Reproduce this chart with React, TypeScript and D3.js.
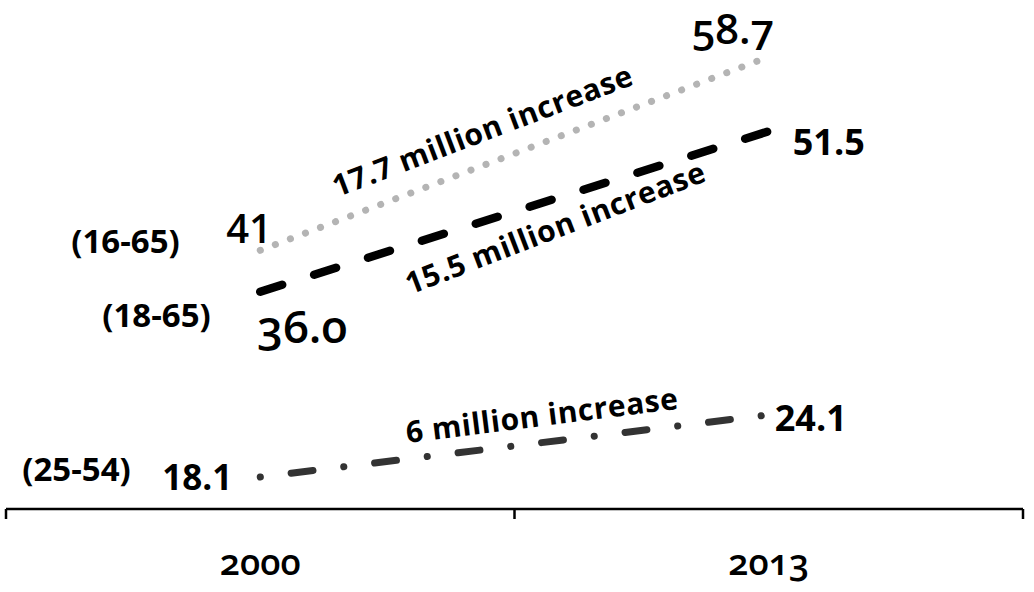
import React from 'react';
import * as d3 from 'd3';

// ---- data ----
const years = ['2000', '2013'];
const groups = ['(16-65)', '(18-65)', '(25-54)'];
// plotted values (millions); 16-65 start drawn at ~40 in the source although labelled 41
const values1665 = [40.0, 58.7];
const values1865 = [36.0, 51.5];
const values2554 = [18.1, 24.1];
const startLabels = ['41', '36.0', '18.1'];
const endLabels = ['58.7', '51.5', '24.1'];
const increaseLabels = ['17.7 million increase', '15.5 million increase', '6 million increase'];

// ---- styles / layout ----
const W = 1034;
const H = 592;
const FONT = "'Open Sans', 'Noto Sans', sans-serif";

const seriesStyles = [
  { color: '#b4b4b4', width: 7, dash: '0.1 16' },
  { color: '#000000', width: 8.5, dash: '23 33.5' },
  { color: '#333333', width: 7, dash: '0.1 31 22 31' },
];

// offsets relative to data points
const groupLabelPos = [
  { dx: -189, dy: 3 },
  { dx: -158, dy: 35 },
  { dx: -238, dy: 4 },
];
const startLabelStyle = [
  { dx: -34, dy: -7, size: 40, weight: 600, onum: false },
  { dx: -3, dy: 51, size: 46, weight: 600, onum: true },
  { dx: -98, dy: 13, size: 35, weight: 700, onum: false },
];
const endLabelStyle = [
  { dx: -77, dy: -13, size: 42, weight: 600, onum: true },
  { dx: 24, dy: 24, size: 36, weight: 700, onum: false },
  { dx: 6, dy: 16, size: 36, weight: 700, onum: false },
];
const increaseStyle = [
  { dx: 77, dy: -53, angle: -20.8 },
  { dx: 150, dy: 3, angle: -21 },
  { dx: 147, dy: -34, angle: -7.2 },
];

export default function App() {
  const x = d3.scaleBand<string>().domain(years).range([6, 1023]).paddingInner(0).paddingOuter(0);
  const y = d3.scaleLinear().domain([0, 60]).range([664.3, 43.3]);
  const cx = (yr: string) => (x(yr) as number) + x.bandwidth() / 2;
  const axisY = 509;

  const allSeries = [values1665, values1865, values2554];
  const line = d3
    .line<number>()
    .x((_, i) => cx(years[i]))
    .y((d) => y(d));

  const bounds = [x(years[0]) as number, x(years[1]) as number, (x(years[1]) as number) + x.bandwidth()];

  return (
    <svg width={W} height={H} style={{ position: 'absolute', left: 0, top: 0, background: '#fff' }} fontFamily={FONT}>
      {/* axis */}
      <line x1={bounds[0]} x2={bounds[2]} y1={axisY} y2={axisY} stroke="#000" strokeWidth={2.5} />
      {bounds.map((b, i) => (
        <line key={i} x1={b} x2={b} y1={axisY} y2={axisY + 10} stroke="#000" strokeWidth={2.5} />
      ))}
      {years.map((yr) => (
        <text
          key={yr}
          x={cx(yr)}
          y={575}
          textAnchor="middle"
          fontSize={36}
          fontWeight={600}
          style={{ fontVariantNumeric: 'oldstyle-nums' }}
        >
          {yr}
        </text>
      ))}

      {/* lines */}
      {allSeries.map((vals, i) => (
        <path
          key={i}
          d={line(vals) as string}
          fill="none"
          stroke={seriesStyles[i].color}
          strokeWidth={seriesStyles[i].width}
          strokeDasharray={seriesStyles[i].dash}
          strokeLinecap="round"
        />
      ))}

      {/* group labels */}
      {allSeries.map((vals, i) => (
        <text
          key={'g' + i}
          x={cx(years[0]) + groupLabelPos[i].dx}
          y={y(vals[0]) + groupLabelPos[i].dy}
          fontSize={33}
          fontWeight={700}
        >
          {groups[i]}
        </text>
      ))}

      {/* start value labels */}
      {allSeries.map((vals, i) => (
        <text
          key={'s' + i}
          x={cx(years[0]) + startLabelStyle[i].dx}
          y={y(vals[0]) + startLabelStyle[i].dy}
          fontSize={startLabelStyle[i].size}
          fontWeight={startLabelStyle[i].weight}
          style={startLabelStyle[i].onum ? { fontVariantNumeric: 'oldstyle-nums' } : undefined}
        >
          {startLabels[i]}
        </text>
      ))}

      {/* end value labels */}
      {allSeries.map((vals, i) => (
        <text
          key={'e' + i}
          x={cx(years[1]) + endLabelStyle[i].dx}
          y={y(vals[1]) + endLabelStyle[i].dy}
          fontSize={endLabelStyle[i].size}
          fontWeight={endLabelStyle[i].weight}
          style={endLabelStyle[i].onum ? { fontVariantNumeric: 'oldstyle-nums' } : undefined}
        >
          {endLabels[i]}
        </text>
      ))}

      {/* increase annotations */}
      {allSeries.map((vals, i) => {
        const px = cx(years[0]) + increaseStyle[i].dx;
        const py = y(vals[0]) + increaseStyle[i].dy;
        return (
          <text
            key={'a' + i}
            transform={`translate(${px},${py}) rotate(${increaseStyle[i].angle})`}
            fontSize={30}
            fontWeight={700}
            letterSpacing={0.6}
          >
            {increaseLabels[i]}
          </text>
        );
      })}
    </svg>
  );
}
